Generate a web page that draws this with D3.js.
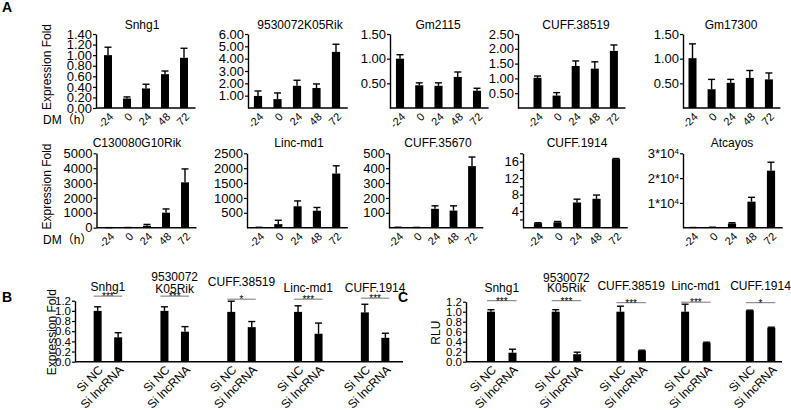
<!DOCTYPE html>
<html><head><meta charset="utf-8">
<script src="https://cdn.jsdelivr.net/npm/d3@7"></script>
<style>
body{margin:0;background:#fff}
svg{display:block}
text{font-family:"Liberation Sans",Arial,"Noto Sans CJK SC",sans-serif;fill:#000}
</style>
</head><body>
<svg id="c" width="791" height="410"></svg>
<script>
// ---------- DATA ----------
const times = ["-24","0","24","48","72"];

// Panel A, row 1
const snhg1 = [1.00, 0.18, 0.37, 0.64, 0.95];
const snhg1Sd = [0.15, 0.03, 0.08, 0.06, 0.18];
const k05Rik = [0.98, 0.72, 1.80, 1.62, 4.55];
const k05RikSd = [0.40, 0.50, 0.45, 0.33, 0.62];
const gm2115 = [1.00, 0.46, 0.45, 0.63, 0.35];
const gm2115Sd = [0.08, 0.05, 0.06, 0.10, 0.05];
const cuff38519 = [1.02, 0.42, 1.42, 1.33, 1.93];
const cuff38519Sd = [0.06, 0.10, 0.17, 0.23, 0.20];
const gm17300 = [1.01, 0.38, 0.51, 0.61, 0.58];
const gm17300Sd = [0.29, 0.20, 0.07, 0.15, 0.13];

// Panel A, row 2
const c130080 = [2, 8, 130, 1010, 3050];
const c130080Sd = [2, 5, 90, 250, 900];
const lincMd1 = [8, 120, 720, 570, 1820];
const lincMd1Sd = [5, 130, 180, 110, 260];
const cuff35670 = [2, 1, 127, 115, 414];
const cuff35670Sd = [1, 1, 20, 32, 61];
const cuff1914 = [1.1, 1.3, 6.1, 7.0, 16.6];
const cuff1914Sd = [0.1, 0.2, 0.8, 0.9, 0.15];
const atcayos = [60, 150, 1700, 10500, 23000];
const atcayosSd = [30, 50, 300, 1750, 3400];

// tick values
const snhg1Ticks = [0, 0.2, 0.4, 0.6, 0.8, 1.0, 1.2, 1.4];
const k05Ticks = [1, 2, 3, 4, 5, 6];
const gmTicks = [0.5, 1.0, 1.5];
const cuff38519Ticks = [0.5, 1.0, 1.5, 2.0, 2.5];
const c130Ticks = [0, 1000, 2000, 3000, 4000, 5000];
const lincTicks = [500, 1000, 1500, 2000, 2500];
const cuff35670Ticks = [100, 200, 300, 400, 500];
const cuff1914Ticks = [2, 4, 6, 8, 10, 12, 14, 16, 18];
const atcayosTicks = [10000, 20000, 30000];

// Panels B and C
const knockGenes = ["Snhg1", "9530072K05Rik", "CUFF.38519", "Linc-md1", "CUFF.1914"];
const conditions = ["Si NC", "Si lncRNA"];
const exprNC = [1.00, 1.00, 0.98, 0.98, 0.97];
const exprNCSd = [0.08, 0.08, 0.21, 0.12, 0.16];
const exprKD = [0.48, 0.59, 0.68, 0.55, 0.47];
const exprKDSd = [0.09, 0.10, 0.11, 0.21, 0.09];
const rluNC = [1.00, 1.00, 1.00, 1.00, 1.02];
const rluNCSd = [0.04, 0.04, 0.11, 0.15, 0.01];
const rluKD = [0.18, 0.15, 0.22, 0.38, 0.68];
const rluKDSd = [0.07, 0.04, 0.01, 0.01, 0.01];
const sigB = ["***", "***", "*", "***", "***"];
const sigC = ["***", "***", "***", "***", "*"];
const sigLevelB = [1.29, 1.29, 1.23, 1.23, 1.25];
const sigLevelC = [1.22, 1.22, 1.18, 1.19, 1.18];
const rluTicks = [0, 0.2, 0.4, 0.6, 0.8, 1.0, 1.2];

// ---------- DRAW ----------
const svg = d3.select("#c");
svg.append("rect").attr("width", 791).attr("height", 410).attr("fill", "#fff");

const f2 = d3.format(".2f");
const f1 = d3.format(".1f");

function styleAxis(g, fs) {
  g.selectAll("path.domain").attr("stroke", "#000").attr("stroke-width", 1.4);
  g.selectAll(".tick line").attr("stroke", "#000").attr("stroke-width", 1.2);
  g.selectAll("text").style("font-size", fs + "px").attr("fill", "#000");
}

function timePanel(cfg) {
  const g = svg.append("g");
  const x = d3.scaleBand().domain(times)
    .range([cfg.first - cfg.step / 2, cfg.first + 4.5 * cfg.step])
    .paddingInner(0.58).paddingOuter(0.29);
  const y = d3.scaleLinear().domain([0, cfg.max]).range([cfg.base, cfg.top]);
  const bw = x.bandwidth();
  const rows = times.map((t, i) => ({ t, v: cfg.values[i], sd: cfg.sd[i] }));

  g.selectAll("rect.bar").data(rows).join("rect")
    .attr("x", d => x(d.t)).attr("width", bw)
    .attr("y", d => y(d.v)).attr("height", d => cfg.base - y(d.v))
    .attr("fill", "#000");
  g.selectAll("line.err").data(rows).join("line")
    .attr("x1", d => x(d.t) + bw / 2).attr("x2", d => x(d.t) + bw / 2)
    .attr("y1", d => y(d.v)).attr("y2", d => y(d.v + d.sd))
    .attr("stroke", "#000").attr("stroke-width", 1.4);
  g.selectAll("line.cap").data(rows).join("line")
    .attr("x1", d => x(d.t) + bw / 2 - 3.5).attr("x2", d => x(d.t) + bw / 2 + 3.5)
    .attr("y1", d => y(d.v + d.sd)).attr("y2", d => y(d.v + d.sd))
    .attr("stroke", "#000").attr("stroke-width", 1.4);

  const xa = g.append("g").attr("transform", `translate(0,${cfg.base})`)
    .call(d3.axisBottom(x).tickSize(0).tickPadding(0));
  xa.select("path.domain").remove();
  xa.selectAll("text").attr("y", 0).attr("dy", null).attr("x", 0)
    .attr("transform", "translate(6,9.5) rotate(-45)")
    .style("text-anchor", "end").style("font-size", "11px");
  g.append("line").attr("x1", cfg.ax).attr("x2", x.range()[1] + 2)
    .attr("y1", cfg.base).attr("y2", cfg.base)
    .attr("stroke", "#000").attr("stroke-width", 1.4);

  const ya = g.append("g").attr("transform", `translate(${cfg.ax},0)`)
    .call(d3.axisLeft(y).tickValues(cfg.ticks).tickFormat(cfg.fmt)
      .tickSize(3).tickPadding(1).tickSizeOuter(0));
  styleAxis(ya, 13);
  if (cfg.sci) {
    ya.selectAll(".tick text").each(function (d) {
      const t = d3.select(this);
      t.text(null);
      t.append("tspan").text((d / 10000) + "*10");
      t.append("tspan").text("4").attr("dy", "-0.45em").style("font-size", "8px");
    });
  }

  g.append("text").attr("x", cfg.titleX).attr("y", cfg.titleY)
    .attr("text-anchor", "middle").style("font-size", "12px").text(cfg.name);
}

const row1 = { base: 108, top: 34, titleY: 28.5 };
const row2 = { base: 227.7, top: 153.3, titleY: 147 };

timePanel({ ...row1, name: "Snhg1", values: snhg1, sd: snhg1Sd, ax: 96, first: 108, step: 19, max: 1.4, ticks: snhg1Ticks, fmt: f2, titleX: 142 });
timePanel({ ...row1, name: "9530072K05Rik", values: k05Rik, sd: k05RikSd, ax: 248, first: 258, step: 19.5, max: 6, ticks: k05Ticks, fmt: f2, titleX: 300 });
timePanel({ ...row1, name: "Gm2115", values: gm2115, sd: gm2115Sd, ax: 390, first: 400, step: 19.25, max: 1.5, ticks: gmTicks, fmt: f2, titleX: 438 });
timePanel({ ...row1, name: "CUFF.38519", values: cuff38519, sd: cuff38519Sd, ax: 518, first: 537.5, step: 19.1, max: 2.5, ticks: cuff38519Ticks, fmt: f2, titleX: 576 });
timePanel({ ...row1, name: "Gm17300", values: gm17300, sd: gm17300Sd, ax: 683, first: 692.5, step: 19.1, max: 1.5, ticks: gmTicks, fmt: f2, titleX: 731 });

timePanel({ ...row2, name: "C130080G10Rik", values: c130080, sd: c130080Sd, ax: 96.5, first: 109, step: 19, max: 5000, ticks: c130Ticks, fmt: d3.format("d"), titleX: 137 });
timePanel({ ...row2, name: "Linc-md1", values: lincMd1, sd: lincMd1Sd, ax: 247, first: 259, step: 19.3, max: 2500, ticks: lincTicks, fmt: d3.format("d"), titleX: 299 });
timePanel({ ...row2, name: "CUFF.35670", values: cuff35670, sd: cuff35670Sd, ax: 389, first: 398, step: 18.5, max: 500, ticks: cuff35670Ticks, fmt: d3.format("d"), titleX: 438 });
timePanel({ ...row2, name: "CUFF.1914", values: cuff1914, sd: cuff1914Sd, ax: 523, first: 538, step: 19.5, max: 18, ticks: cuff1914Ticks, fmt: d => (d % 4 === 0 ? d : ""), titleX: 577 });
timePanel({ ...row2, name: "Atcayos", values: atcayos, sd: atcayosSd, ax: 683, first: 693, step: 19.5, max: 30000, ticks: atcayosTicks, fmt: d => d, sci: true, titleX: 732 });

[row1, row2].forEach(r => {
  const cy = (r.base + r.top) / 2 - 4;
  svg.append("text").attr("transform", `translate(51,${cy}) rotate(-90)`)
    .attr("text-anchor", "middle").style("font-size", "12px").text("Expression Fold");
  svg.append("text").attr("x", 43).attr("y", r.base + 16)
    .style("font-size", "12px").text("DM（h）");
});

function groupPanel(cfg) {
  const g = svg.append("g");
  const x0 = d3.scaleBand().domain(knockGenes).range(cfg.groupRange);
  const x1 = d3.scaleBand().domain(conditions).range([0, cfg.inner]);
  const y = d3.scaleLinear().domain([0, 1.2]).range([cfg.base, cfg.top]);
  const bw = 8;
  const rows = [];
  knockGenes.forEach((gname, i) => {
    rows.push({ g: gname, c: conditions[0], v: cfg.nc[i], sd: cfg.ncSd[i] });
    rows.push({ g: gname, c: conditions[1], v: cfg.kd[i], sd: cfg.kdSd[i] });
  });
  const cx = d => x0(d.g) + x1(d.c) + x1.bandwidth() / 2;

  g.selectAll("rect.bar").data(rows).join("rect")
    .attr("x", d => cx(d) - bw / 2).attr("width", bw)
    .attr("y", d => y(d.v)).attr("height", d => cfg.base - y(d.v))
    .attr("fill", "#000");
  g.selectAll("line.err").data(rows).join("line")
    .attr("x1", cx).attr("x2", cx)
    .attr("y1", d => y(d.v)).attr("y2", d => y(d.v + d.sd))
    .attr("stroke", "#000").attr("stroke-width", 1.4);
  g.selectAll("line.cap").data(rows).join("line")
    .attr("x1", d => cx(d) - 3.5).attr("x2", d => cx(d) + 3.5)
    .attr("y1", d => y(d.v + d.sd)).attr("y2", d => y(d.v + d.sd))
    .attr("stroke", "#000").attr("stroke-width", 1.4);

  g.selectAll("text.xl").data(rows).join("text")
    .attr("transform", d => `translate(${cx(d) + 6},${cfg.base + 9}) rotate(-45)`)
    .attr("text-anchor", "end").style("font-size", "12px").text(d => d.c);
  g.append("line").attr("x1", cfg.ax).attr("x2", cfg.axEnd)
    .attr("y1", cfg.base).attr("y2", cfg.base)
    .attr("stroke", "#000").attr("stroke-width", 1.4);

  const ya = g.append("g").attr("transform", `translate(${cfg.ax},0)`)
    .call(d3.axisLeft(y).tickValues(rluTicks).tickFormat(f1)
      .tickSize(3).tickPadding(1).tickSizeOuter(0));
  styleAxis(ya, 11.5);

  knockGenes.forEach((gname, i) => {
    const mid = x0(gname) + cfg.inner / 2;
    const lines = gname === "9530072K05Rik" ? ["9530072", "K05Rik"] : [gname];
    const ys = cfg.titleY[i];
    lines.forEach((ln, j) => {
      g.append("text").attr("x", mid).attr("y", Array.isArray(ys) ? ys[j] : ys)
        .attr("text-anchor", "middle").style("font-size", "12px").text(ln);
    });
    const ncx = x0(gname) + x1(conditions[0]) + x1.bandwidth() / 2;
    const kdx = x0(gname) + x1(conditions[1]) + x1.bandwidth() / 2;
    const ly = y(cfg.sigLevel[i]);
    g.append("line").attr("x1", ncx - 4).attr("x2", kdx + 4).attr("y1", ly).attr("y2", ly)
      .attr("stroke", "#777").attr("stroke-width", 1);
    g.append("text").attr("x", (ncx + kdx) / 2).attr("y", ly + 4)
      .attr("text-anchor", "middle").style("font-size", "10px").attr("fill", "#555")
      .text(cfg.sig[i]);
  });

  g.append("text").attr("transform", `translate(${cfg.labelX},${(cfg.base + cfg.top) / 2 + 1}) rotate(-90)`)
    .attr("text-anchor", "middle").style("font-size", "12px").text(cfg.ylabel);
}

groupPanel({
  ax: 75, axEnd: 403, base: 361.7, top: 300.7, groupRange: [87.4, 421.4], inner: 41,
  nc: exprNC, ncSd: exprNCSd, kd: exprKD, kdSd: exprKDSd, sig: sigB, sigLevel: sigLevelB,
  titleY: [291, [280.5, 293], 286, 292, 292], labelX: 55.5, ylabel: "Expression Fold"
});
groupPanel({
  ax: 466, axEnd: 782, base: 361.7, top: 301.7, groupRange: [480.25, 803.75], inner: 43,
  nc: rluNC, ncSd: rluNCSd, kd: rluKD, kdSd: rluKDSd, sig: sigC, sigLevel: sigLevelC,
  titleY: [292, [281.5, 292], 290, 290, 290], labelX: 440, ylabel: "RLU"
});

[["A", 2, 12], ["B", 2, 302], ["C", 398, 302]].forEach(([t, x, y]) => {
  svg.append("text").attr("x", x).attr("y", y).style("font-size", "14px")
    .style("font-weight", "bold").text(t);
});
</script>
</body></html>
